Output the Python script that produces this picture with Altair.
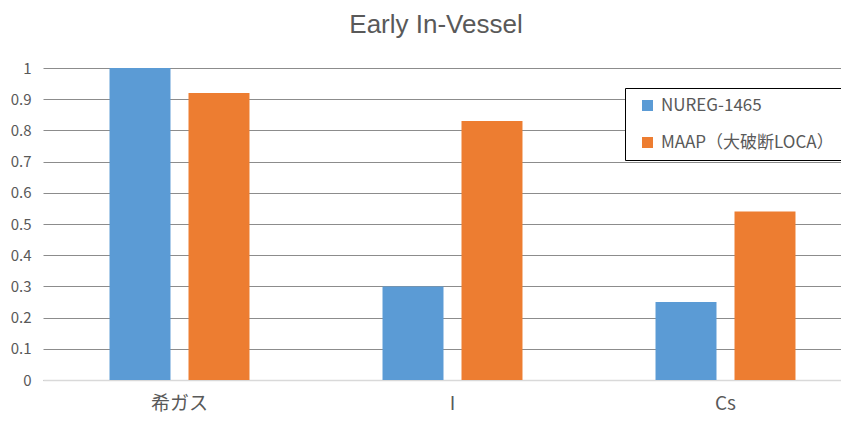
import altair as alt
import pandas as pd

categories = ["希ガス", "I", "Cs"]
series_names = ["NUREG-1465", "MAAP（大破断LOCA）"]
nureg_values = [1.0, 0.3, 0.25]
maap_values = [0.92, 0.83, 0.54]
colors = ["#5B9BD5", "#ED7D31"]

rows = []
for i, c in enumerate(categories):
    rows.append({"category": c, "series": series_names[0], "value": nureg_values[i]})
    rows.append({"category": c, "series": series_names[1], "value": maap_values[i]})
df = pd.DataFrame(rows)

FONT = "Noto Sans CJK JP"

chart = alt.Chart(df).mark_bar().encode(
    x=alt.X("category:N", sort=categories,
            scale=alt.Scale(range=[0, 819], paddingInner=0, paddingOuter=0),
            axis=alt.Axis(title=None, labelAngle=0, labelFontSize=19, labelColor="#595959",
                          labelFont=FONT, ticks=False, labelPadding=14,
                          domainColor="#D9D9D9", domainWidth=1.5, grid=False)),
    xOffset=alt.XOffset("series:N", sort=series_names,
                        scale=alt.Scale(paddingInner=0.228, paddingOuter=0.842)),
    y=alt.Y("value:Q", scale=alt.Scale(domain=[0, 1], nice=False),
            axis=alt.Axis(title=None, values=[i / 10 for i in range(11)], format="~g",
                          labelFontSize=15, labelColor="#595959", labelFont=FONT,
                          ticks=False, domain=False, labelPadding=12,
                          gridColor="#8c8c8c", gridWidth=1)),
    color=alt.Color("series:N", sort=series_names,
                    scale=alt.Scale(domain=series_names, range=colors),
                    legend=alt.Legend(title=None, orient="none", legendX=582, legendY=20,
                                      symbolType="square", symbolSize=121,
                                      symbolStrokeWidth=0, symbolOffset=5,
                                      labelOffset=5, labelFontSize=17,
                                      labelColor="#595959", labelFont=FONT,
                                      rowPadding=19, padding=9,
                                      strokeColor="black", fillColor="white",
                                      labelLimit=300)),
).properties(
    width=798,
    height=312,
    title=alt.TitleParams("Early In-Vessel", fontSize=26, font="Liberation Sans",
                          color="#595959", fontWeight="normal", anchor="middle",
                          dx=-6, offset=23),
    autosize=alt.AutoSizeParams(type="none"),
    padding={"left": 35, "top": 60, "right": 0, "bottom": 33},
).configure_view(stroke=None)

chart.save("out.html", embed_options={"renderer": "svg", "actions": False})
